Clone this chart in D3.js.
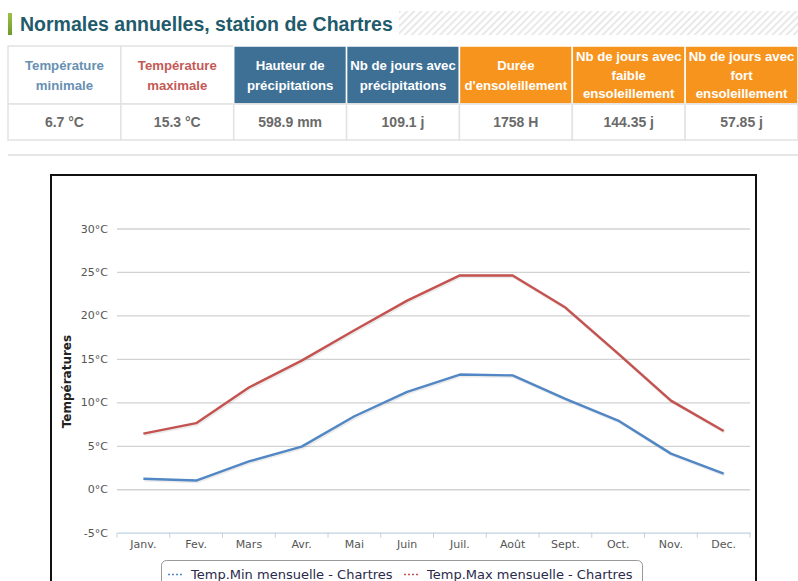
<!DOCTYPE html>
<html>
<head>
<meta charset="utf-8">
<script src="https://cdn.jsdelivr.net/npm/d3@7/dist/d3.min.js"></script>
<style>
  html, body { margin: 0; padding: 0; background: #fff; }
  svg { display: block; }
</style>
</head>
<body>
<svg id="page" width="798" height="581"></svg>
<script>
// Annual normals summary for the Chartres station
const pageTitle = "Normales annuelles, station de Chartres";
const headerLabels = [
  ["Température", "minimale"],
  ["Température", "maximale"],
  ["Hauteur de", "précipitations"],
  ["Nb de jours avec", "précipitations"],
  ["Durée", "d'ensoleillement"],
  ["Nb de jours avec", "faible", "ensoleillement"],
  ["Nb de jours avec", "fort", "ensoleillement"]
];
const headerStyles = ["min", "max", "rain", "rain", "sun", "sun", "sun"];
const summaryValues = ["6.7 °C", "15.3 °C", "598.9 mm", "109.1 j", "1758 H", "144.35 j", "57.85 j"];

// Monthly normals
const months = ["Janv.", "Fev.", "Mars", "Avr.", "Mai", "Juin", "Juil.", "Août", "Sept.", "Oct.", "Nov.", "Dec."];
const tempMin = [1.2, 1.0, 3.2, 4.9, 8.4, 11.2, 13.2, 13.1, 10.4, 7.9, 4.1, 1.8];
const tempMax = [6.4, 7.6, 11.7, 14.8, 18.3, 21.7, 24.6, 24.6, 20.9, 15.6, 10.2, 6.7];
const yTicks = [-5, 0, 5, 10, 15, 20, 25, 30];
const seriesNames = ["Temp.Min mensuelle - Chartres", "Temp.Max mensuelle - Chartres"];
const yTitle = "Températures";

const svg = d3.select("#page");
const defs = svg.append("defs");

// ---- Title block ----
const hatch = defs.append("pattern")
  .attr("id", "hatch").attr("patternUnits", "userSpaceOnUse")
  .attr("width", 5).attr("height", 5)
  .attr("patternTransform", "rotate(45)");
hatch.append("rect").attr("width", 5).attr("height", 5).attr("fill", "#fff");
hatch.append("rect").attr("width", 1.6).attr("height", 5).attr("fill", "#e4e4e4");
svg.append("rect").attr("x", 399).attr("y", 11).attr("width", 399).attr("height", 24).attr("fill", "url(#hatch)");

const greenGrad = defs.append("linearGradient").attr("id", "green").attr("x1", 0).attr("x2", 0).attr("y1", 0).attr("y2", 1);
greenGrad.append("stop").attr("offset", 0).attr("stop-color", "#9cc04a");
greenGrad.append("stop").attr("offset", 1).attr("stop-color", "#6f9a2a");
svg.append("rect").attr("x", 8).attr("y", 13).attr("width", 4).attr("height", 22).attr("fill", "url(#green)");

svg.append("text").attr("x", 20).attr("y", 31)
  .attr("font-family", "Liberation Sans, Arial, sans-serif")
  .attr("font-size", 19.5).attr("font-weight", "bold")
  .attr("fill", "#1f5b6b").text(pageTitle);

// ---- Summary table ----
const colX = d3.scaleBand().domain(d3.range(headerLabels.length)).range([8, 798]);
const headTop = 46, headBottom = 104, rowBottom = 140;
const headFill = { min: "#ffffff", max: "#ffffff", rain: "#3e7096", sun: "#f7941e" };
const headText = { min: "#6790b3", max: "#c45a56", rain: "#ffffff", sun: "#ffffff" };

const cols = svg.append("g").selectAll("g").data(headerLabels).join("g");
cols.append("rect")
  .attr("x", (d, i) => colX(i)).attr("y", headTop)
  .attr("width", colX.bandwidth()).attr("height", headBottom - headTop)
  .attr("fill", (d, i) => headFill[headerStyles[i]])
  .attr("stroke", (d, i) => headerStyles[i] === "min" || headerStyles[i] === "max" ? "#e2e2e2" : "#ffffff")
  .attr("stroke-width", 1.5);
cols.append("rect")
  .attr("x", (d, i) => colX(i)).attr("y", headBottom)
  .attr("width", colX.bandwidth()).attr("height", rowBottom - headBottom)
  .attr("fill", "#fff").attr("stroke", "#e2e2e2").attr("stroke-width", 1.5);

cols.each(function (lines, i) {
  const g = d3.select(this);
  const cx = colX(i) + colX.bandwidth() / 2;
  const step = lines.length === 3 ? 18.5 : 19.5;
  const mid = (headTop + headBottom) / 2;
  lines.forEach((t, k) => {
    g.append("text")
      .attr("x", cx).attr("y", mid + (k - (lines.length - 1) / 2) * step)
      .attr("dy", "0.36em").attr("text-anchor", "middle")
      .attr("font-family", "Liberation Sans, Arial, sans-serif")
      .attr("font-size", 13.2).attr("font-weight", "bold")
      .attr("fill", headText[headerStyles[i]]).text(t);
  });
  g.append("text")
    .attr("x", cx).attr("y", (headBottom + rowBottom) / 2)
    .attr("dy", "0.36em").attr("text-anchor", "middle")
    .attr("font-family", "Liberation Sans, Arial, sans-serif")
    .attr("font-size", 14).attr("font-weight", "bold")
    .attr("fill", "#6a6a6a").text(summaryValues[i]);
});

svg.append("rect").attr("x", 8).attr("y", 154).attr("width", 790).attr("height", 2).attr("fill", "#e6e6e6");

// ---- Chart frame ----
svg.append("rect").attr("x", 51).attr("y", 175).attr("width", 705).attr("height", 430)
  .attr("fill", "#fff").attr("stroke", "#111").attr("stroke-width", 2);

const x = d3.scaleBand().domain(months).range([117, 750]);
const y = d3.scaleLinear().domain([-5, 30]).range([532.7, 228.5]);
const chartFont = "DejaVu Sans, Verdana, sans-serif";

// Grid lines and y axis labels
const yAxis = svg.append("g").attr("transform", "translate(117,0)")
  .call(d3.axisLeft(y).tickValues(yTicks).tickSize(-633).tickFormat(d => d + "°C"));
yAxis.select(".domain").remove();
yAxis.selectAll(".tick line").attr("stroke", (d) => d === -5 ? "none" : "#d2d2d2").attr("stroke-width", 1.3);
yAxis.selectAll(".tick text").attr("x", -9).attr("font-family", chartFont)
  .attr("font-size", 11).attr("fill", "#555");

// X axis
const xAxis = svg.append("g").attr("transform", `translate(0,${y(-5)})`)
  .call(d3.axisBottom(x).tickSize(0).tickPadding(8));
xAxis.select(".domain").attr("stroke", "#c0d0e0").attr("stroke-width", 1.3);
xAxis.selectAll(".tick text").attr("font-family", chartFont).attr("font-size", 11).attr("fill", "#555");
svg.append("g").selectAll("line").data(d3.range(months.length + 1)).join("line")
  .attr("x1", i => 117 + i * x.step()).attr("x2", i => 117 + i * x.step())
  .attr("y1", y(-5)).attr("y2", y(-5) + 5)
  .attr("stroke", "#c0d0e0").attr("stroke-width", 1);

// Y axis title
svg.append("text")
  .attr("transform", `translate(71,${(y(30) + y(-5)) / 2 + 1}) rotate(-90)`)
  .attr("text-anchor", "middle")
  .attr("font-family", chartFont).attr("font-size", 12).attr("font-weight", "bold")
  .attr("fill", "#222").text(yTitle);

// Series lines
const line = d3.line().x((d, i) => x(months[i]) + x.bandwidth() / 2).y(d => y(d));
const series = [
  { values: tempMin, color: "#5187c4" },
  { values: tempMax, color: "#c4524f" }
];
series.forEach(s => {
  svg.append("path").datum(s.values).attr("d", line)
    .attr("fill", "none").attr("stroke", "#000").attr("stroke-opacity", 0.08)
    .attr("stroke-width", 3.5).attr("transform", "translate(1,1)")
    .attr("stroke-linejoin", "round");
  svg.append("path").datum(s.values).attr("d", line)
    .attr("fill", "none").attr("stroke", s.color)
    .attr("stroke-width", 2.4).attr("stroke-linejoin", "round");
});

// Legend
svg.append("rect").attr("x", 161.5).attr("y", 560.5).attr("width", 481).attr("height", 40)
  .attr("rx", 5).attr("fill", "#fff").attr("stroke", "#999").attr("stroke-width", 1);
const legendPos = [168, 404];
seriesNames.forEach((name, i) => {
  svg.append("line").attr("x1", legendPos[i]).attr("x2", legendPos[i] + 15)
    .attr("y1", 574.5).attr("y2", 574.5)
    .attr("stroke", series[i].color).attr("stroke-width", 1.6).attr("stroke-dasharray", "2,2");
  svg.append("text").attr("x", legendPos[i] + 23).attr("y", 579)
    .attr("font-family", chartFont).attr("font-size", 13)
    .attr("fill", "#2a2a4a").text(name);
});
</script>
</body>
</html>
